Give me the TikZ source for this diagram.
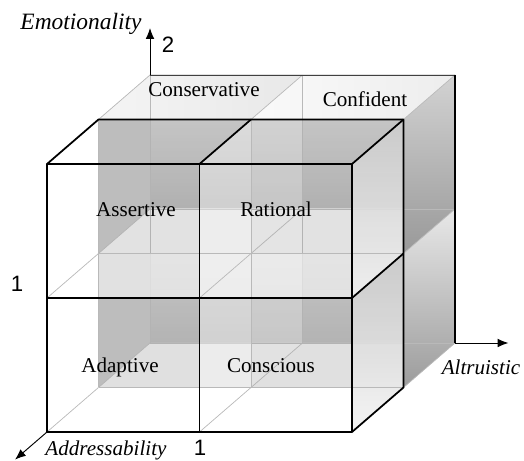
\documentclass[tikz,border=0pt]{standalone}
\usepackage{fontspec}
\setmainfont{Liberation Serif}
\newfontfamily\numfont{Liberation Sans}
\usetikzlibrary{arrows.meta}

\begin{document}
\begin{tikzpicture}[x={(4.575cm,0cm)}, y={(0cm,4.02cm)}, z={(1.545cm,1.335cm)},
    edge/.style={draw=gray!55, line width=0.6pt},
    frame/.style={draw=black, line width=1.5pt, line join=round},
    axis/.style={-{Latex[length=3.2mm,width=2.6mm]}, line width=0.8pt},
    lbl/.style={font=\fontsize{18}{20}\selectfont, anchor=base},
    axlbl/.style={font=\fontsize{18}{20}\selectfont\itshape, anchor=base},
    num/.style={font=\numfont\fontsize{19}{22}\selectfont, anchor=base}]
    \useasboundingbox (-1.41cm,-0.87cm) rectangle (14.31cm,12.96cm);

    % Back layer: rear wall
    \foreach \i in {0,1}{
        \shade[top color=gray!25, bottom color=gray!58] (\i,1,2) rectangle (\i+1,2,2);
        \shade[top color=gray!25, bottom color=gray!55] (\i,0,2) rectangle (\i+1,1,2);
    }

    % Back layer: left wall, floors, middle wall
    \fill[gray!45] (0,0,1) -- (0,0,2) -- (0,2,2) -- (0,2,1) -- cycle;
    \fill[gray!6] (0,0,1) -- (2,0,1) -- (2,0,2) -- (0,0,2) -- cycle;
    \fill[gray!4] (0,1,1) -- (2,1,1) -- (2,1,2) -- (0,1,2) -- cycle;
    \fill[white, opacity=.4] (1,0,1) -- (1,0,2) -- (1,2,2) -- (1,2,1) -- cycle;

    % Back layer: right wall and roof
    \shade[top color=gray!35, bottom color=gray!80] (2,1,1) -- (2,1,2) -- (2,2,2) -- (2,2,1) -- cycle;
    \shade[top color=gray!18, bottom color=gray!78] (2,0,1) -- (2,0,2) -- (2,1,2) -- (2,1,1) -- cycle;
    \shade[left color=gray!8, right color=gray!18] (0,2,1) -- (1,2,1) -- (1,2,2) -- (0,2,2) -- cycle;
    \shade[left color=gray!4, right color=gray!14] (1,2,1) -- (2,2,1) -- (2,2,2) -- (1,2,2) -- cycle;

    % Back layer edges
    \foreach \i in {0,1,2}{
        \draw[edge] (\i,0,2) -- (\i,2,2);
        \draw[edge] (0,\i,2) -- (2,\i,2);
        \foreach \j in {0,1,2}
            \draw[edge] (\i,\j,1) -- (\i,\j,2);
    }
    \draw[black!75, line width=0.8pt] (0,2,2) -- (2,2,2);
    \draw[black, line width=1.4pt] (2,2,2) -- (2,0,2);

    % Front layer: rear faces
    \fill[gray!70, opacity=.28] (0,0,1) rectangle (2,2,1);

    % Front layer: floors and side walls
    \fill[white, opacity=.55] (0,1,0) -- (2,1,0) -- (2,1,1) -- (0,1,1) -- cycle;
    \fill[white, opacity=.55] (0,0,0) -- (2,0,0) -- (2,0,1) -- (0,0,1) -- cycle;
    \fill[white, opacity=.55] (0,0,0) -- (0,2,0) -- (0,2,1) -- (0,0,1) -- cycle;
    \fill[white, opacity=.4] (1,0,0) -- (1,2,0) -- (1,2,1) -- (1,0,1) -- cycle;
    \shade[top color=gray!40, bottom color=gray!12, opacity=.9] (2,1,0) -- (2,2,0) -- (2,2,1) -- (2,1,1) -- cycle;
    \shade[top color=gray!40, bottom color=gray!10, opacity=.9] (2,0,0) -- (2,1,0) -- (2,1,1) -- (2,0,1) -- cycle;

    % Front layer: inner edges
    \draw[edge] (0,0,1) -- (0,2,1);
    \draw[edge] (1,0,1) -- (1,2,1);
    \draw[edge] (0,0,1) -- (2,0,1);
    \draw[edge] (0,1,1) -- (2,1,1);
    \foreach \i in {0,1}
        \foreach \j in {0,1}
            \draw[edge] (\i,\j,0) -- (\i,\j,1);

    % Front layer: outline
    \draw[frame] (0,0,0) rectangle (2,2,0);
    \draw[frame] (1,0,0) -- (1,2,0);
    \draw[frame] (0,1,0) -- (2,1,0);
    \draw[frame] (0,2,0) -- (0,2,1) -- (2,2,1) -- (2,0,1) -- (2,0,0);
    \draw[frame] (1,2,0) -- (1,2,1);
    \draw[frame] (2,2,0) -- (2,2,1);
    \draw[frame] (2,1,0) -- (2,1,1);

    % Axes
    \coordinate (orig) at (0,0,0);
    \coordinate (emoBase) at (0,2,2);
    \coordinate (emoTip) at (0,2.35,2);
    \coordinate (altBase) at (2,0,2);
    \coordinate (altTip) at (2.35,0,2);
    \coordinate (addTip) at (0,0,-0.62);
    \draw[axis] (emoBase) -- (emoTip);
    \draw[axis] (altBase) -- (altTip);
    \draw[axis] (orig) -- (addTip);

    % Axis labels
    \node[axlbl, font=\fontsize{20}{22}\selectfont\itshape] (emo) at (1.02cm,12.06cm) {Emotionality};
    \node[num] (two) at (3.63cm,11.37cm) {2};
    \node[axlbl] (alt) at (13.02cm,1.71cm) {Altruistic};
    \node[axlbl] (addr) at (1.77cm,-0.7cm) {Addressability};
    \node[num] (oneB) at (4.59cm,-0.7cm) {1};
    \node[num] (oneL) at (-0.9cm,4.2cm) {1};

    % Cell labels
    \node[lbl] (cons) at (4.71cm,10.05cm) {Conservative};
    \node[lbl] (conf) at (9.54cm,9.75cm) {Confident};
    \node[lbl] (asrt) at (2.67cm,6.45cm) {Assertive};
    \node[lbl] (rat) at (6.87cm,6.45cm) {Rational};
    \node[lbl] (adap) at (2.19cm,1.77cm) {Adaptive};
    \node[lbl] (consc) at (6.72cm,1.77cm) {Conscious};
\end{tikzpicture}
\end{document}
